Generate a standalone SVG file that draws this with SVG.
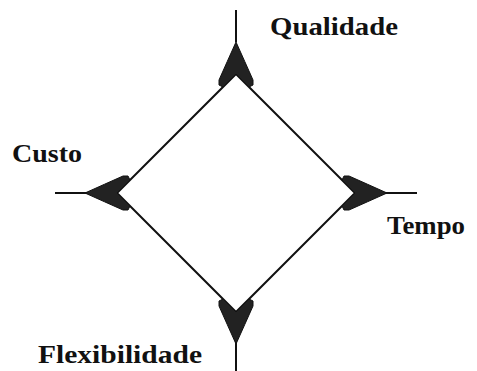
<svg xmlns="http://www.w3.org/2000/svg" width="477" height="371" viewBox="0 0 477 371">
<style>
.ln{stroke:#111;stroke-width:2;fill:none}
.dart{fill:#222;stroke:#111;stroke-width:1}
.lbl{font-family:"Liberation Serif","Times New Roman",serif;font-weight:bold;font-size:25px;fill:#111}
</style>
<defs>
<path id="dart" d="M0,-32 Q-9,-12 -17,6 L-17,11 L-13,13 L0,0 L13,13 L17,11 L17,6 Q9,-12 0,-32 Z"/>
</defs>
<rect width="477" height="371" fill="#fff"/>
<g id="connectors">
<line class="ln" x1="236" y1="10" x2="236" y2="42"/>
<line class="ln" x1="236" y1="342" x2="236" y2="371"/>
<line class="ln" x1="55" y1="193" x2="87" y2="193"/>
<line class="ln" x1="385" y1="193" x2="417" y2="193"/>
<polygon class="ln" points="236,74 355,193 236,312 117,193"/>
</g>
<g id="dart-top"><use href="#dart" class="dart" transform="translate(236,74)"/></g>
<g id="dart-right"><use href="#dart" class="dart" transform="translate(355,193) rotate(90)"/></g>
<g id="dart-bottom"><use href="#dart" class="dart" transform="translate(236,312) rotate(180)"/></g>
<g id="dart-left"><use href="#dart" class="dart" transform="translate(117,193) rotate(270)"/></g>
<g id="qualidade"><text class="lbl" x="270" y="35" textLength="128" lengthAdjust="spacingAndGlyphs">Qualidade</text></g>
<g id="custo"><text class="lbl" x="12" y="162" textLength="70" lengthAdjust="spacingAndGlyphs">Custo</text></g>
<g id="tempo"><text class="lbl" x="387" y="234" textLength="78" lengthAdjust="spacingAndGlyphs">Tempo</text></g>
<g id="flexibilidade"><text class="lbl" x="38" y="363" textLength="164" lengthAdjust="spacingAndGlyphs">Flexibilidade</text></g>
</svg>
